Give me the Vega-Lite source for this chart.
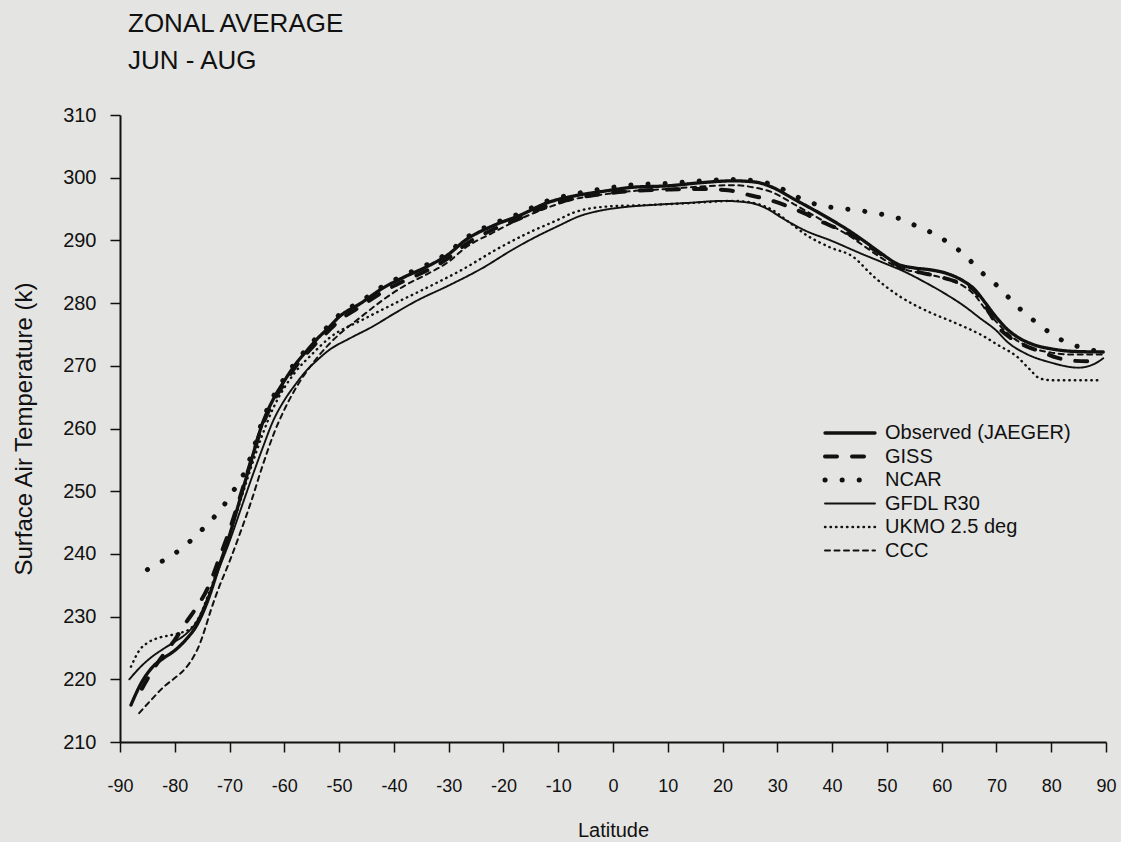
{
  "$schema": "https://vega.github.io/schema/vega-lite/v6.json",
  "width": 986,
  "height": 627,
  "autosize": "none",
  "padding": {"left": 120, "top": 115, "right": 15, "bottom": 100},
  "background": "#e4e4e2",
  "title": {
    "text": ["ZONAL AVERAGE", "JUN - AUG"],
    "anchor": "start",
    "frame": "group",
    "dx": 8,
    "offset": 10,
    "fontSize": 26,
    "font": "Liberation Sans",
    "fontWeight": "normal",
    "color": "#111",
    "lineHeight": 37,
    "baseline": "alphabetic"
  },
  "config": {
    "view": {"stroke": null},
    "font": "Liberation Sans",
    "axis": {
      "grid": false,
      "domainColor": "#111",
      "tickColor": "#111",
      "labelColor": "#111",
      "titleColor": "#111",
      "domainWidth": 2,
      "tickWidth": 1.5,
      "titleFontWeight": "normal",
      "labelFont": "Liberation Sans",
      "titleFont": "Liberation Sans"
    },
    "legend": {
      "labelFont": "Liberation Sans",
      "labelColor": "#111"
    }
  },
  "data": {
    "values": [
      {"model": "Observed (JAEGER)", "lat": -88, "T": 215.9},
      {"model": "Observed (JAEGER)", "lat": -86, "T": 219.6},
      {"model": "Observed (JAEGER)", "lat": -84, "T": 222.0},
      {"model": "Observed (JAEGER)", "lat": -82, "T": 223.4},
      {"model": "Observed (JAEGER)", "lat": -80, "T": 224.6},
      {"model": "Observed (JAEGER)", "lat": -78, "T": 226.3},
      {"model": "Observed (JAEGER)", "lat": -76, "T": 228.6},
      {"model": "Observed (JAEGER)", "lat": -74, "T": 232.5},
      {"model": "Observed (JAEGER)", "lat": -72, "T": 237.8},
      {"model": "Observed (JAEGER)", "lat": -70, "T": 243.0},
      {"model": "Observed (JAEGER)", "lat": -68, "T": 249.0},
      {"model": "Observed (JAEGER)", "lat": -66, "T": 255.0},
      {"model": "Observed (JAEGER)", "lat": -64, "T": 260.8},
      {"model": "Observed (JAEGER)", "lat": -62, "T": 264.7},
      {"model": "Observed (JAEGER)", "lat": -60, "T": 267.6},
      {"model": "Observed (JAEGER)", "lat": -58, "T": 270.2},
      {"model": "Observed (JAEGER)", "lat": -56, "T": 272.3},
      {"model": "Observed (JAEGER)", "lat": -54, "T": 274.3},
      {"model": "Observed (JAEGER)", "lat": -52, "T": 276.0},
      {"model": "Observed (JAEGER)", "lat": -50, "T": 277.8},
      {"model": "Observed (JAEGER)", "lat": -46, "T": 280.0},
      {"model": "Observed (JAEGER)", "lat": -42, "T": 282.4},
      {"model": "Observed (JAEGER)", "lat": -38, "T": 284.2},
      {"model": "Observed (JAEGER)", "lat": -34, "T": 285.8},
      {"model": "Observed (JAEGER)", "lat": -30, "T": 287.8},
      {"model": "Observed (JAEGER)", "lat": -27, "T": 290.0},
      {"model": "Observed (JAEGER)", "lat": -22, "T": 292.3},
      {"model": "Observed (JAEGER)", "lat": -17, "T": 294.0},
      {"model": "Observed (JAEGER)", "lat": -12, "T": 296.0},
      {"model": "Observed (JAEGER)", "lat": -7, "T": 297.1},
      {"model": "Observed (JAEGER)", "lat": -2, "T": 297.8},
      {"model": "Observed (JAEGER)", "lat": 4, "T": 298.5},
      {"model": "Observed (JAEGER)", "lat": 10, "T": 298.7},
      {"model": "Observed (JAEGER)", "lat": 16, "T": 299.2},
      {"model": "Observed (JAEGER)", "lat": 22, "T": 299.5},
      {"model": "Observed (JAEGER)", "lat": 26, "T": 299.3},
      {"model": "Observed (JAEGER)", "lat": 29, "T": 298.5},
      {"model": "Observed (JAEGER)", "lat": 33, "T": 296.6},
      {"model": "Observed (JAEGER)", "lat": 37, "T": 294.7},
      {"model": "Observed (JAEGER)", "lat": 40, "T": 293.2},
      {"model": "Observed (JAEGER)", "lat": 43, "T": 291.6},
      {"model": "Observed (JAEGER)", "lat": 46, "T": 289.8},
      {"model": "Observed (JAEGER)", "lat": 49, "T": 287.9},
      {"model": "Observed (JAEGER)", "lat": 52, "T": 286.2},
      {"model": "Observed (JAEGER)", "lat": 55, "T": 285.6},
      {"model": "Observed (JAEGER)", "lat": 58, "T": 285.3},
      {"model": "Observed (JAEGER)", "lat": 61, "T": 284.7},
      {"model": "Observed (JAEGER)", "lat": 64, "T": 283.5},
      {"model": "Observed (JAEGER)", "lat": 66, "T": 282.2},
      {"model": "Observed (JAEGER)", "lat": 68, "T": 280.0},
      {"model": "Observed (JAEGER)", "lat": 70, "T": 277.7},
      {"model": "Observed (JAEGER)", "lat": 72, "T": 275.8},
      {"model": "Observed (JAEGER)", "lat": 74, "T": 274.5},
      {"model": "Observed (JAEGER)", "lat": 77, "T": 273.3},
      {"model": "Observed (JAEGER)", "lat": 80, "T": 272.7},
      {"model": "Observed (JAEGER)", "lat": 84, "T": 272.3},
      {"model": "Observed (JAEGER)", "lat": 89.5, "T": 272.2},

      {"model": "GISS", "lat": -86, "T": 218.5},
      {"model": "GISS", "lat": -84, "T": 221.5},
      {"model": "GISS", "lat": -82, "T": 224.0},
      {"model": "GISS", "lat": -80, "T": 226.3},
      {"model": "GISS", "lat": -78, "T": 229.0},
      {"model": "GISS", "lat": -76, "T": 231.5},
      {"model": "GISS", "lat": -74, "T": 234.5},
      {"model": "GISS", "lat": -72, "T": 239.0},
      {"model": "GISS", "lat": -70, "T": 243.8},
      {"model": "GISS", "lat": -68, "T": 249.3},
      {"model": "GISS", "lat": -66, "T": 255.0},
      {"model": "GISS", "lat": -64, "T": 260.5},
      {"model": "GISS", "lat": -62, "T": 264.3},
      {"model": "GISS", "lat": -60, "T": 267.2},
      {"model": "GISS", "lat": -58, "T": 269.8},
      {"model": "GISS", "lat": -56, "T": 271.9},
      {"model": "GISS", "lat": -54, "T": 273.8},
      {"model": "GISS", "lat": -52, "T": 275.5},
      {"model": "GISS", "lat": -50, "T": 277.2},
      {"model": "GISS", "lat": -46, "T": 279.5},
      {"model": "GISS", "lat": -42, "T": 281.8},
      {"model": "GISS", "lat": -38, "T": 283.6},
      {"model": "GISS", "lat": -34, "T": 285.2},
      {"model": "GISS", "lat": -30, "T": 287.2},
      {"model": "GISS", "lat": -27, "T": 289.3},
      {"model": "GISS", "lat": -22, "T": 291.7},
      {"model": "GISS", "lat": -17, "T": 293.5},
      {"model": "GISS", "lat": -12, "T": 295.5},
      {"model": "GISS", "lat": -7, "T": 296.7},
      {"model": "GISS", "lat": -2, "T": 297.4},
      {"model": "GISS", "lat": 4, "T": 297.9},
      {"model": "GISS", "lat": 10, "T": 298.1},
      {"model": "GISS", "lat": 16, "T": 298.2},
      {"model": "GISS", "lat": 21, "T": 298.0},
      {"model": "GISS", "lat": 25, "T": 297.2},
      {"model": "GISS", "lat": 28, "T": 296.6},
      {"model": "GISS", "lat": 32, "T": 295.4},
      {"model": "GISS", "lat": 35, "T": 294.3},
      {"model": "GISS", "lat": 38, "T": 293.0},
      {"model": "GISS", "lat": 41, "T": 291.9},
      {"model": "GISS", "lat": 44, "T": 290.6},
      {"model": "GISS", "lat": 47, "T": 288.9},
      {"model": "GISS", "lat": 50, "T": 287.2},
      {"model": "GISS", "lat": 53, "T": 285.5},
      {"model": "GISS", "lat": 56, "T": 284.9},
      {"model": "GISS", "lat": 60, "T": 284.1},
      {"model": "GISS", "lat": 63, "T": 283.3},
      {"model": "GISS", "lat": 66, "T": 282.0},
      {"model": "GISS", "lat": 68, "T": 279.5},
      {"model": "GISS", "lat": 70.5, "T": 276.0},
      {"model": "GISS", "lat": 72.5, "T": 274.5},
      {"model": "GISS", "lat": 75.5, "T": 273.1},
      {"model": "GISS", "lat": 78, "T": 272.3},
      {"model": "GISS", "lat": 81, "T": 271.3},
      {"model": "GISS", "lat": 84, "T": 270.8},
      {"model": "GISS", "lat": 89, "T": 270.7},

      {"model": "NCAR", "lat": -85, "T": 237.5},
      {"model": "NCAR", "lat": -82, "T": 239.0},
      {"model": "NCAR", "lat": -79, "T": 240.7},
      {"model": "NCAR", "lat": -76.5, "T": 242.6},
      {"model": "NCAR", "lat": -74, "T": 244.8},
      {"model": "NCAR", "lat": -71.5, "T": 247.2},
      {"model": "NCAR", "lat": -69.5, "T": 249.8},
      {"model": "NCAR", "lat": -67.5, "T": 252.6},
      {"model": "NCAR", "lat": -66, "T": 255.8},
      {"model": "NCAR", "lat": -64, "T": 261.2},
      {"model": "NCAR", "lat": -62, "T": 265.1},
      {"model": "NCAR", "lat": -60, "T": 268.0},
      {"model": "NCAR", "lat": -58, "T": 270.5},
      {"model": "NCAR", "lat": -56, "T": 272.6},
      {"model": "NCAR", "lat": -54, "T": 274.6},
      {"model": "NCAR", "lat": -52, "T": 276.3},
      {"model": "NCAR", "lat": -50, "T": 278.1},
      {"model": "NCAR", "lat": -46, "T": 280.3},
      {"model": "NCAR", "lat": -42, "T": 282.7},
      {"model": "NCAR", "lat": -38, "T": 284.5},
      {"model": "NCAR", "lat": -34, "T": 286.1},
      {"model": "NCAR", "lat": -30, "T": 288.1},
      {"model": "NCAR", "lat": -27, "T": 290.3},
      {"model": "NCAR", "lat": -22, "T": 292.6},
      {"model": "NCAR", "lat": -17, "T": 294.3},
      {"model": "NCAR", "lat": -12, "T": 296.3},
      {"model": "NCAR", "lat": -7, "T": 297.4},
      {"model": "NCAR", "lat": -2, "T": 298.2},
      {"model": "NCAR", "lat": 4, "T": 298.9},
      {"model": "NCAR", "lat": 10, "T": 299.1},
      {"model": "NCAR", "lat": 16, "T": 299.5},
      {"model": "NCAR", "lat": 22, "T": 299.7},
      {"model": "NCAR", "lat": 26, "T": 299.5},
      {"model": "NCAR", "lat": 30, "T": 298.6},
      {"model": "NCAR", "lat": 33, "T": 297.2},
      {"model": "NCAR", "lat": 35.5, "T": 296.2},
      {"model": "NCAR", "lat": 38.3, "T": 295.5},
      {"model": "NCAR", "lat": 41.8, "T": 295.1},
      {"model": "NCAR", "lat": 45.4, "T": 294.7},
      {"model": "NCAR", "lat": 48.9, "T": 294.2},
      {"model": "NCAR", "lat": 52.2, "T": 293.5},
      {"model": "NCAR", "lat": 55.4, "T": 292.3},
      {"model": "NCAR", "lat": 58.7, "T": 291.0},
      {"model": "NCAR", "lat": 61.6, "T": 289.4},
      {"model": "NCAR", "lat": 64.4, "T": 287.5},
      {"model": "NCAR", "lat": 66.9, "T": 285.2},
      {"model": "NCAR", "lat": 69.5, "T": 283.3},
      {"model": "NCAR", "lat": 71.9, "T": 281.2},
      {"model": "NCAR", "lat": 74.4, "T": 279.0},
      {"model": "NCAR", "lat": 77, "T": 277.1},
      {"model": "NCAR", "lat": 79.9, "T": 275.2},
      {"model": "NCAR", "lat": 82.8, "T": 273.7},
      {"model": "NCAR", "lat": 86.1, "T": 272.8},
      {"model": "NCAR", "lat": 89.6, "T": 272.1},

      {"model": "GFDL R30", "lat": -88.3, "T": 220.0},
      {"model": "GFDL R30", "lat": -86, "T": 222.2},
      {"model": "GFDL R30", "lat": -84, "T": 223.7},
      {"model": "GFDL R30", "lat": -82, "T": 224.9},
      {"model": "GFDL R30", "lat": -80, "T": 226.0},
      {"model": "GFDL R30", "lat": -78, "T": 227.2},
      {"model": "GFDL R30", "lat": -76, "T": 229.2},
      {"model": "GFDL R30", "lat": -74, "T": 233.0},
      {"model": "GFDL R30", "lat": -72, "T": 237.5},
      {"model": "GFDL R30", "lat": -70, "T": 242.0},
      {"model": "GFDL R30", "lat": -68, "T": 247.0},
      {"model": "GFDL R30", "lat": -66, "T": 252.0},
      {"model": "GFDL R30", "lat": -64, "T": 256.8},
      {"model": "GFDL R30", "lat": -62, "T": 261.3},
      {"model": "GFDL R30", "lat": -60, "T": 264.5},
      {"model": "GFDL R30", "lat": -58, "T": 267.0},
      {"model": "GFDL R30", "lat": -56, "T": 269.2},
      {"model": "GFDL R30", "lat": -54, "T": 270.9},
      {"model": "GFDL R30", "lat": -52, "T": 272.4},
      {"model": "GFDL R30", "lat": -48, "T": 274.4},
      {"model": "GFDL R30", "lat": -44, "T": 276.2},
      {"model": "GFDL R30", "lat": -40, "T": 278.3},
      {"model": "GFDL R30", "lat": -36, "T": 280.3},
      {"model": "GFDL R30", "lat": -30, "T": 282.8},
      {"model": "GFDL R30", "lat": -24, "T": 285.5},
      {"model": "GFDL R30", "lat": -18, "T": 288.7},
      {"model": "GFDL R30", "lat": -14, "T": 290.6},
      {"model": "GFDL R30", "lat": -10, "T": 292.3},
      {"model": "GFDL R30", "lat": -6, "T": 293.9},
      {"model": "GFDL R30", "lat": -2, "T": 294.8},
      {"model": "GFDL R30", "lat": 2, "T": 295.3},
      {"model": "GFDL R30", "lat": 8, "T": 295.7},
      {"model": "GFDL R30", "lat": 14, "T": 296.0},
      {"model": "GFDL R30", "lat": 20, "T": 296.3},
      {"model": "GFDL R30", "lat": 25, "T": 296.0},
      {"model": "GFDL R30", "lat": 28, "T": 295.1},
      {"model": "GFDL R30", "lat": 31, "T": 293.5},
      {"model": "GFDL R30", "lat": 35, "T": 291.6},
      {"model": "GFDL R30", "lat": 40, "T": 289.9},
      {"model": "GFDL R30", "lat": 45, "T": 288.0},
      {"model": "GFDL R30", "lat": 50, "T": 286.2},
      {"model": "GFDL R30", "lat": 53, "T": 285.1},
      {"model": "GFDL R30", "lat": 57, "T": 283.3},
      {"model": "GFDL R30", "lat": 61, "T": 281.3},
      {"model": "GFDL R30", "lat": 64, "T": 279.6},
      {"model": "GFDL R30", "lat": 67, "T": 277.6},
      {"model": "GFDL R30", "lat": 70, "T": 275.6},
      {"model": "GFDL R30", "lat": 72, "T": 273.8},
      {"model": "GFDL R30", "lat": 75, "T": 272.1},
      {"model": "GFDL R30", "lat": 80, "T": 270.5},
      {"model": "GFDL R30", "lat": 85, "T": 269.7},
      {"model": "GFDL R30", "lat": 88.3, "T": 270.5},
      {"model": "GFDL R30", "lat": 89.5, "T": 271.2},

      {"model": "UKMO 2.5 deg", "lat": -88, "T": 222.0},
      {"model": "UKMO 2.5 deg", "lat": -86.4, "T": 224.7},
      {"model": "UKMO 2.5 deg", "lat": -85, "T": 225.8},
      {"model": "UKMO 2.5 deg", "lat": -83, "T": 226.6},
      {"model": "UKMO 2.5 deg", "lat": -81, "T": 227.0},
      {"model": "UKMO 2.5 deg", "lat": -79, "T": 227.4},
      {"model": "UKMO 2.5 deg", "lat": -77, "T": 228.2},
      {"model": "UKMO 2.5 deg", "lat": -75.5, "T": 230.0},
      {"model": "UKMO 2.5 deg", "lat": -74, "T": 233.2},
      {"model": "UKMO 2.5 deg", "lat": -72, "T": 238.0},
      {"model": "UKMO 2.5 deg", "lat": -70, "T": 243.0},
      {"model": "UKMO 2.5 deg", "lat": -68, "T": 248.5},
      {"model": "UKMO 2.5 deg", "lat": -66, "T": 254.0},
      {"model": "UKMO 2.5 deg", "lat": -64, "T": 259.0},
      {"model": "UKMO 2.5 deg", "lat": -62, "T": 263.3},
      {"model": "UKMO 2.5 deg", "lat": -60, "T": 266.5},
      {"model": "UKMO 2.5 deg", "lat": -58, "T": 269.0},
      {"model": "UKMO 2.5 deg", "lat": -55, "T": 271.8},
      {"model": "UKMO 2.5 deg", "lat": -51.7, "T": 274.5},
      {"model": "UKMO 2.5 deg", "lat": -45.6, "T": 277.4},
      {"model": "UKMO 2.5 deg", "lat": -39.5, "T": 280.1},
      {"model": "UKMO 2.5 deg", "lat": -33.4, "T": 282.7},
      {"model": "UKMO 2.5 deg", "lat": -27.4, "T": 285.4},
      {"model": "UKMO 2.5 deg", "lat": -21.2, "T": 288.6},
      {"model": "UKMO 2.5 deg", "lat": -15.2, "T": 291.3},
      {"model": "UKMO 2.5 deg", "lat": -10, "T": 293.3},
      {"model": "UKMO 2.5 deg", "lat": -7.3, "T": 294.4},
      {"model": "UKMO 2.5 deg", "lat": -1.1, "T": 295.4},
      {"model": "UKMO 2.5 deg", "lat": 4.9, "T": 295.6},
      {"model": "UKMO 2.5 deg", "lat": 10.9, "T": 295.8},
      {"model": "UKMO 2.5 deg", "lat": 17.1, "T": 296.1},
      {"model": "UKMO 2.5 deg", "lat": 22, "T": 296.3},
      {"model": "UKMO 2.5 deg", "lat": 26, "T": 295.9},
      {"model": "UKMO 2.5 deg", "lat": 29, "T": 294.9},
      {"model": "UKMO 2.5 deg", "lat": 32, "T": 293.0},
      {"model": "UKMO 2.5 deg", "lat": 35.4, "T": 290.8},
      {"model": "UKMO 2.5 deg", "lat": 39.6, "T": 288.9},
      {"model": "UKMO 2.5 deg", "lat": 43.8, "T": 287.4},
      {"model": "UKMO 2.5 deg", "lat": 47.5, "T": 284.3},
      {"model": "UKMO 2.5 deg", "lat": 52.3, "T": 281.1},
      {"model": "UKMO 2.5 deg", "lat": 57.9, "T": 278.5},
      {"model": "UKMO 2.5 deg", "lat": 61.5, "T": 277.2},
      {"model": "UKMO 2.5 deg", "lat": 63.9, "T": 276.3},
      {"model": "UKMO 2.5 deg", "lat": 67.5, "T": 274.8},
      {"model": "UKMO 2.5 deg", "lat": 70.5, "T": 273.2},
      {"model": "UKMO 2.5 deg", "lat": 73.7, "T": 271.5},
      {"model": "UKMO 2.5 deg", "lat": 76, "T": 269.5},
      {"model": "UKMO 2.5 deg", "lat": 77.9, "T": 268.0},
      {"model": "UKMO 2.5 deg", "lat": 80, "T": 267.7},
      {"model": "UKMO 2.5 deg", "lat": 89, "T": 267.7},

      {"model": "CCC", "lat": -86.5, "T": 214.6},
      {"model": "CCC", "lat": -84, "T": 217.0},
      {"model": "CCC", "lat": -82, "T": 218.8},
      {"model": "CCC", "lat": -80, "T": 220.2},
      {"model": "CCC", "lat": -78, "T": 221.8},
      {"model": "CCC", "lat": -76.7, "T": 223.4},
      {"model": "CCC", "lat": -75.5, "T": 225.5},
      {"model": "CCC", "lat": -74.5, "T": 228.0},
      {"model": "CCC", "lat": -73.5, "T": 230.8},
      {"model": "CCC", "lat": -72, "T": 234.5},
      {"model": "CCC", "lat": -70, "T": 238.8},
      {"model": "CCC", "lat": -68, "T": 243.5},
      {"model": "CCC", "lat": -66, "T": 248.5},
      {"model": "CCC", "lat": -64, "T": 254.0},
      {"model": "CCC", "lat": -62, "T": 259.0},
      {"model": "CCC", "lat": -60, "T": 263.0},
      {"model": "CCC", "lat": -58, "T": 266.3},
      {"model": "CCC", "lat": -56, "T": 269.0},
      {"model": "CCC", "lat": -54, "T": 271.3},
      {"model": "CCC", "lat": -52, "T": 273.3},
      {"model": "CCC", "lat": -50, "T": 275.0},
      {"model": "CCC", "lat": -46, "T": 277.8},
      {"model": "CCC", "lat": -42, "T": 280.5},
      {"model": "CCC", "lat": -38, "T": 282.8},
      {"model": "CCC", "lat": -34, "T": 284.6},
      {"model": "CCC", "lat": -30, "T": 286.6},
      {"model": "CCC", "lat": -27, "T": 288.8},
      {"model": "CCC", "lat": -22, "T": 291.2},
      {"model": "CCC", "lat": -17, "T": 293.4},
      {"model": "CCC", "lat": -12, "T": 295.2},
      {"model": "CCC", "lat": -7, "T": 296.6},
      {"model": "CCC", "lat": -2, "T": 297.3},
      {"model": "CCC", "lat": 4, "T": 297.9},
      {"model": "CCC", "lat": 10, "T": 298.2},
      {"model": "CCC", "lat": 16, "T": 298.6},
      {"model": "CCC", "lat": 22, "T": 298.8},
      {"model": "CCC", "lat": 26, "T": 298.4},
      {"model": "CCC", "lat": 29, "T": 297.7},
      {"model": "CCC", "lat": 33, "T": 295.8},
      {"model": "CCC", "lat": 37, "T": 293.8},
      {"model": "CCC", "lat": 40, "T": 292.3},
      {"model": "CCC", "lat": 43, "T": 290.8},
      {"model": "CCC", "lat": 46, "T": 289.0},
      {"model": "CCC", "lat": 49, "T": 287.2},
      {"model": "CCC", "lat": 52, "T": 285.7},
      {"model": "CCC", "lat": 55, "T": 285.0},
      {"model": "CCC", "lat": 58, "T": 284.5},
      {"model": "CCC", "lat": 61, "T": 283.8},
      {"model": "CCC", "lat": 64, "T": 282.7},
      {"model": "CCC", "lat": 66, "T": 281.3},
      {"model": "CCC", "lat": 68, "T": 279.0},
      {"model": "CCC", "lat": 70, "T": 277.0},
      {"model": "CCC", "lat": 72, "T": 275.2},
      {"model": "CCC", "lat": 74, "T": 273.9},
      {"model": "CCC", "lat": 77, "T": 272.7},
      {"model": "CCC", "lat": 80, "T": 272.1},
      {"model": "CCC", "lat": 84, "T": 271.8},
      {"model": "CCC", "lat": 89.5, "T": 271.8}
    ]
  },
  "mark": {"type": "line", "color": "#111", "interpolate": "monotone", "strokeCap": "round", "strokeJoin": "round"},
  "encoding": {
    "x": {
      "field": "lat",
      "type": "quantitative",
      "title": "Latitude",
      "scale": {"domain": [-90, 90], "nice": false, "zero": false},
      "axis": {
        "values": [-90, -80, -70, -60, -50, -40, -30, -20, -10, 0, 10, 20, 30, 40, 50, 60, 70, 80, 90],
        "labelExpr": "datum.value + ''",
        "tickSize": 10,
        "labelPadding": 25,
        "labelFontSize": 18,
        "titleFontSize": 20,
        "titlePadding": 25,
        "labelFlush": false,
        "labelOverlap": false
      }
    },
    "y": {
      "field": "T",
      "type": "quantitative",
      "title": "Surface Air Temperature (k)",
      "scale": {"domain": [210, 310], "nice": false, "zero": false},
      "axis": {
        "values": [210, 220, 230, 240, 250, 260, 270, 280, 290, 300, 310],
        "tickSize": 10,
        "labelPadding": 14,
        "labelFontSize": 20,
        "titleFontSize": 24,
        "titlePadding": 26,
        "labelFlush": false,
        "labelOverlap": false
      }
    },
    "strokeDash": {
      "field": "model",
      "type": "nominal",
      "scale": {
        "domain": ["Observed (JAEGER)", "GISS", "NCAR", "GFDL R30", "UKMO 2.5 deg", "CCC"],
        "range": [[1, 0], [12, 15], [0.1, 17], [1, 0], [0.5, 5], [5, 4.5]]
      },
      "legend": {
        "title": null,
        "orient": "none",
        "legendX": 720,
        "legendY": 308,
        "symbolSize": 100,
        "symbolStrokeColor": "#111",
        "labelFontSize": 20,
        "labelOffset": 25,
        "rowPadding": 3.5,
        "labelLimit": 300,
        "encoding": {
          "symbols": {
            "shape": {"value": "M-5,0H5"},
            "strokeCap": {"value": "round"},
            "strokeWidth": {"value": {"expr": "datum.value === 'Observed (JAEGER)' ? 3.3 : datum.value === 'GISS' ? 4 : datum.value === 'NCAR' ? 5 : datum.value === 'UKMO 2.5 deg' ? 2.4 : datum.value === 'CCC' ? 2 : 1.9"}}
          }
        }
      }
    },
    "strokeWidth": {
      "field": "model",
      "type": "nominal",
      "scale": {
        "type": "ordinal",
        "domain": ["Observed (JAEGER)", "GISS", "NCAR", "GFDL R30", "UKMO 2.5 deg", "CCC"],
        "range": [3.3, 4, 5, 1.9, 2.4, 2]
      },
      "legend": null
    }
  }
}
